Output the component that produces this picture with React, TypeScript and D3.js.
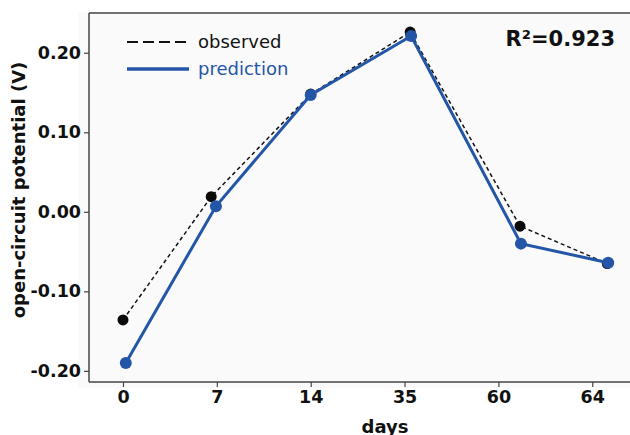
import * as d3 from 'd3';
import React, { useRef, useEffect } from 'react';

// categorical day labels on the x axis
const dayLabels = ['0', '7', '14', '35', '60', '64'];

// x positions of the points, in tick-index units (points sit a little off the ticks)
const observedPos = [0, 0.94, 2.0, 3.06, 4.23, 5.16];
const predictionPos = [0.03, 0.99, 2.0, 3.07, 4.24, 5.17];

// open-circuit potential in volts
const observedValues = [-0.136, 0.019, 0.148, 0.226, -0.018, -0.065];
const predictionValues = [-0.19, 0.007, 0.147, 0.221, -0.04, -0.064];

const yTicks = [-0.2, -0.1, 0.0, 0.1, 0.2];

const BLUE = '#2456a8';
const FONT = 'DejaVu Sans, sans-serif';

const App = () => {
  const svgRef = useRef<SVGSVGElement>(null);

  useEffect(() => {
    const width = 630;
    const height = 435;
    const margin = { top: 13, right: 3, bottom: 53, left: 89 };

    const svg = d3.select(svgRef.current);
    svg.selectAll('*').remove();

    const x = d3.scaleLinear()
      .domain([-0.362, 5.37])
      .range([margin.left, width - margin.right]);

    const y = d3.scaleLinear()
      .domain([-0.214, 0.25])
      .range([height - margin.bottom, margin.top]);

    // light plot background
    svg.append('rect')
      .attr('x', margin.left - 11)
      .attr('y', margin.top - 1)
      .attr('width', width - margin.left + 11)
      .attr('height', height - margin.bottom - margin.top + 7)
      .attr('fill', '#fafafa');

    // top frame line
    svg.append('line')
      .attr('x1', margin.left).attr('x2', width)
      .attr('y1', margin.top).attr('y2', margin.top)
      .attr('stroke', '#444').attr('stroke-width', 1.5);

    // y axis (plain hyphen for negatives, like the original)
    const fmt = d3.format('.2f');
    const yAxis = svg.append('g')
      .attr('transform', `translate(${margin.left},0)`)
      .call(d3.axisLeft(y).tickValues(yTicks)
        .tickFormat((d) => fmt(d as number).replace('−', '-'))
        .tickSize(5).tickPadding(3));
    yAxis.select('.domain').attr('stroke', '#444').attr('stroke-width', 1.5)
      .attr('d', `M0,${margin.top}V${height - margin.bottom}`);
    yAxis.selectAll('.tick line').attr('stroke', '#444').attr('stroke-width', 1.2);
    yAxis.selectAll('text')
      .attr('font-family', FONT)
      .attr('font-weight', 'bold')
      .attr('font-size', 17.5)
      .attr('fill', '#111');

    // x axis
    const xAxis = svg.append('g')
      .attr('transform', `translate(0,${height - margin.bottom})`)
      .call(d3.axisBottom(x).tickValues(d3.range(dayLabels.length))
        .tickFormat((d) => dayLabels[d as number]).tickSize(5).tickPadding(4));
    xAxis.select('.domain').attr('stroke', '#444').attr('stroke-width', 1.5)
      .attr('d', `M${margin.left},0H${width}`);
    xAxis.selectAll('.tick line').attr('stroke', '#444').attr('stroke-width', 1.2);
    xAxis.selectAll('text')
      .attr('font-family', FONT)
      .attr('font-weight', 'bold')
      .attr('font-size', 17.5)
      .attr('fill', '#111');

    // axis titles
    svg.append('text')
      .attr('transform', `translate(25,190) rotate(-90)`)
      .attr('text-anchor', 'middle')
      .attr('font-family', FONT)
      .attr('font-weight', 'bold')
      .attr('font-size', 18)
      .attr('fill', '#111')
      .text('open-circuit potential (V)');

    svg.append('text')
      .attr('x', 385)
      .attr('y', 433)
      .attr('text-anchor', 'middle')
      .attr('font-family', FONT)
      .attr('font-weight', 'bold')
      .attr('font-size', 18)
      .attr('fill', '#111')
      .text('days');

    const observed = observedValues.map((v, i) => [observedPos[i], v] as [number, number]);
    const prediction = predictionValues.map((v, i) => [predictionPos[i], v] as [number, number]);

    const line = d3.line<[number, number]>()
      .x((d) => x(d[0]))
      .y((d) => y(d[1]));

    // observed series: dashed black
    svg.append('path')
      .datum(observed)
      .attr('d', line)
      .attr('fill', 'none')
      .attr('stroke', '#111')
      .attr('stroke-width', 1.5)
      .attr('stroke-dasharray', '4,3');

    svg.append('g')
      .selectAll('circle')
      .data(observed)
      .enter().append('circle')
      .attr('cx', (d) => x(d[0]))
      .attr('cy', (d) => y(d[1]))
      .attr('r', 5.5)
      .attr('fill', '#0a0a0a');

    // prediction series: solid blue
    svg.append('path')
      .datum(prediction)
      .attr('d', line)
      .attr('fill', 'none')
      .attr('stroke', BLUE)
      .attr('stroke-width', 3);

    svg.append('g')
      .selectAll('circle')
      .data(prediction)
      .enter().append('circle')
      .attr('cx', (d) => x(d[0]))
      .attr('cy', (d) => y(d[1]))
      .attr('r', 6)
      .attr('fill', BLUE);

    // legend
    const legend = svg.append('g');
    legend.append('line')
      .attr('x1', 127).attr('x2', 189).attr('y1', 42).attr('y2', 42)
      .attr('stroke', '#111').attr('stroke-width', 2.2).attr('stroke-dasharray', '11,5');
    legend.append('text')
      .attr('x', 198).attr('y', 48)
      .attr('font-family', FONT)
      .attr('font-size', 18)
      .attr('fill', '#111')
      .text('observed');
    legend.append('line')
      .attr('x1', 127).attr('x2', 189).attr('y1', 69).attr('y2', 69)
      .attr('stroke', BLUE).attr('stroke-width', 3.5);
    legend.append('text')
      .attr('x', 198).attr('y', 75)
      .attr('font-family', FONT)
      .attr('font-size', 18)
      .attr('fill', BLUE)
      .text('prediction');

    // fit statistic
    svg.append('text')
      .attr('x', 615).attr('y', 46)
      .attr('text-anchor', 'end')
      .attr('font-family', FONT)
      .attr('font-weight', 'bold')
      .attr('font-size', 21)
      .attr('fill', '#111')
      .text('R²=0.923');
  }, []);

  return (
    <svg
      ref={svgRef}
      width={630}
      height={435}
      style={{ position: 'absolute', left: 0, top: 0, background: '#fff' }}
    />
  );
};

export default App;
